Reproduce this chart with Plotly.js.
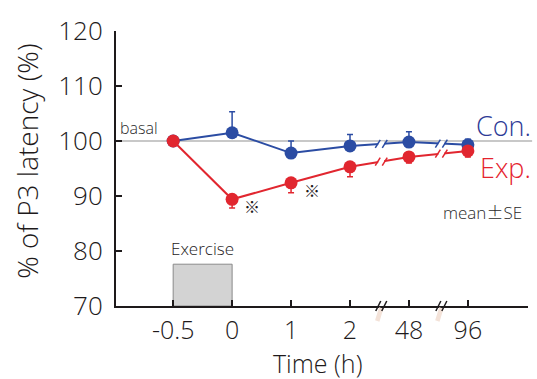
<!DOCTYPE html>
<html>
<head>
<meta charset="utf-8">
<script src="https://cdn.plot.ly/plotly-3.0.1.min.js"></script>
<style>html,body{margin:0;padding:0;background:#fff;}#chart{width:537px;height:379px;}</style>
</head>
<body>
<div id="chart"></div>
<script>
// ---- data ----
const timeLabels = ['-0.5', '0', '1', '2', '48', '96'];
const conMean = [100, 101.5, 97.8, 99.1, 99.8, 99.3];
const conSE   = [0, 3.8, 2.2, 2.1, 1.9, 1.0];
const expMean = [100, 89.4, 92.4, 95.3, 97.1, 98.2];
const expSE   = [0, 1.6, 1.8, 1.8, 1.1, 1.1];
const yTicks = [70, 80, 90, 100, 110, 120];
const basal = 100;
const exerciseFrom = '-0.5', exerciseTo = '0';
const exerciseTop = 77.6;
const breakPositions = [3.53, 4.55]; // axis break positions (between 2 & 48, 48 & 96)

const xIdx = timeLabels.map((_, i) => i);
const BLUE = '#2b4ca3', RED = '#e1262f', TXT = '#1e1a1b';
const FONT = 'Open Sans, Liberation Sans, sans-serif';
const W = 300;
const xRange = [-0.97, 6.02];

const traces = [
  {
    x: xIdx, y: conMean, type: 'scatter', mode: 'lines+markers',
    line: {color: BLUE, width: 2}, marker: {color: BLUE, size: 13},
    error_y: {type: 'data', symmetric: false, array: conSE, arrayminus: conSE.map(() => 0),
      color: BLUE, thickness: 1.5, width: 3},
    hoverinfo: 'skip', showlegend: false
  },
  {
    x: xIdx, y: expMean, type: 'scatter', mode: 'lines+markers',
    line: {color: RED, width: 2}, marker: {color: RED, size: 13},
    error_y: {type: 'data', symmetric: false, array: expSE.map(() => 0), arrayminus: expSE,
      color: RED, thickness: 1.5, width: 3},
    hoverinfo: 'skip', showlegend: false
  }
];

const shapes = [];
// basal line
shapes.push({type: 'line', xref: 'paper', yref: 'y', x0: 0, x1: 1.01, y0: basal, y1: basal,
  line: {color: '#c8c8c8', width: 2}, layer: 'below'});
// exercise box
shapes.push({type: 'rect', xref: 'x', yref: 'y',
  x0: timeLabels.indexOf(exerciseFrom), x1: timeLabels.indexOf(exerciseTo),
  y0: yTicks[0], y1: exerciseTop, fillcolor: '#d3d3d3', line: {color: '#8a8a8a', width: 1}, layer: 'below'});

// break marks on the lines
function lineBreak(series, color, bx) {
  const i = Math.floor(bx), f = bx - i;
  const yb = series[i] + f * (series[i + 1] - series[i]);
  shapes.push({type: 'rect', xref: 'x', yref: 'y', xsizemode: 'pixel', ysizemode: 'pixel',
    xanchor: bx, yanchor: yb, x0: -3, x1: 3, y0: -2.5, y1: 2.5, fillcolor: '#ffffff', line: {width: 0}});
  [-3.5, 3.5].forEach(dx => {
    shapes.push({type: 'line', xref: 'x', yref: 'y', xsizemode: 'pixel', ysizemode: 'pixel',
      xanchor: bx, yanchor: yb, x0: dx - 2.5, x1: dx + 2.5, y0: -4, y1: 4, line: {color: color, width: 1.5}});
  });
}
breakPositions.forEach(b => { lineBreak(conMean, BLUE, b); lineBreak(expMean, RED, b); });

// break marks on the x axis
breakPositions.forEach(b => {
  const px = (b - xRange[0]) / (xRange[1] - xRange[0]);
  shapes.push({type: 'line', xref: 'paper', yref: 'paper', xsizemode: 'pixel', ysizemode: 'pixel',
    xanchor: px, yanchor: 0, x0: 0, x1: -4, y0: -2, y1: -15, line: {color: '#f3e2d8', width: 4.5}});
  [-3, 3].forEach(dx => {
    shapes.push({type: 'line', xref: 'paper', yref: 'paper', xsizemode: 'pixel', ysizemode: 'pixel',
      xanchor: px, yanchor: 0, x0: dx - 2.5, x1: dx + 2.5, y0: -5, y1: 5, line: {color: TXT, width: 1.5}});
  });
});

const annotations = [
  {text: '% of P3 latency (%)', xref: 'paper', yref: 'paper', x: -0.218, y: 0.525, textangle: -90,
    xanchor: 'center', yanchor: 'middle', showarrow: false,
    font: {family: FONT, size: 28, weight: W, color: TXT}},
  {text: 'Time (h)', xref: 'paper', yref: 'paper', x: 0.49, y: -0.206,
    xanchor: 'center', yanchor: 'middle', showarrow: false,
    font: {family: FONT, size: 25, weight: W, color: TXT}},
  {text: 'basal', xref: 'paper', yref: 'y', x: 0.006, y: basal, xanchor: 'left', yanchor: 'bottom',
    yshift: 0, showarrow: false, font: {family: FONT, size: 16, weight: W, color: '#2a2a2a'}},
  {text: 'Con.', xref: 'paper', yref: 'y', x: 1.012, y: 102.9, xanchor: 'right', yanchor: 'middle',
    showarrow: false, font: {family: FONT, size: 27, weight: W, color: '#2e3a96'}},
  {text: 'Exp.', xref: 'paper', yref: 'y', x: 1.012, y: 95.1, xanchor: 'right', yanchor: 'middle',
    showarrow: false, font: {family: FONT, size: 27, weight: W, color: '#e5232e'}},
  {text: 'mean<span style="font-family:Noto Sans CJK JP">±</span>SE', xref: 'paper', yref: 'y',
    x: 0.99, y: 87.1, xanchor: 'right', yanchor: 'middle',
    showarrow: false, font: {family: FONT, size: 17, weight: W, color: '#2a2a2a'}},
  {text: 'Exercise', xref: 'x', yref: 'y',
    x: (timeLabels.indexOf(exerciseFrom) + timeLabels.indexOf(exerciseTo)) / 2, y: exerciseTop,
    xanchor: 'center', yanchor: 'bottom', yshift: 2,
    showarrow: false, font: {family: FONT, size: 17, weight: W, color: TXT}},
  {text: '※', xref: 'x', yref: 'y', x: 1, y: expMean[1], xshift: 20, yshift: -7,
    showarrow: false, font: {family: 'Noto Sans CJK JP, ' + FONT, size: 16, color: TXT}},
  {text: '※', xref: 'x', yref: 'y', x: 2, y: expMean[2], xshift: 21, yshift: -7,
    showarrow: false, font: {family: 'Noto Sans CJK JP, ' + FONT, size: 16, color: TXT}}
];

const layout = {
  width: 537, height: 379,
  margin: {l: 116, r: 9, t: 31, b: 73},
  paper_bgcolor: '#ffffff', plot_bgcolor: '#ffffff',
  font: {family: FONT, color: TXT},
  xaxis: {
    range: xRange, tickmode: 'array', tickvals: xIdx, ticktext: timeLabels,
    ticks: 'inside', ticklen: 6, tickwidth: 1.5, tickcolor: TXT,
    showline: true, linecolor: TXT, linewidth: 2, showgrid: false, zeroline: false,
    tickfont: {family: FONT, size: 25, weight: W, color: TXT}, ticklabelstandoff: 1,
    fixedrange: true
  },
  yaxis: {
    range: [70, 120], tickmode: 'array', tickvals: yTicks,
    ticks: 'inside', ticklen: 6, tickwidth: 1.5, tickcolor: TXT,
    showline: true, linecolor: TXT, linewidth: 2, showgrid: false, zeroline: false,
    tickfont: {family: FONT, size: 26, weight: W, color: TXT}, ticklabelstandoff: 6,
    fixedrange: true
  },
  shapes: shapes,
  annotations: annotations
};

Plotly.newPlot('chart', traces, layout, {displayModeBar: false, staticPlot: true});
</script>
</body>
</html>
